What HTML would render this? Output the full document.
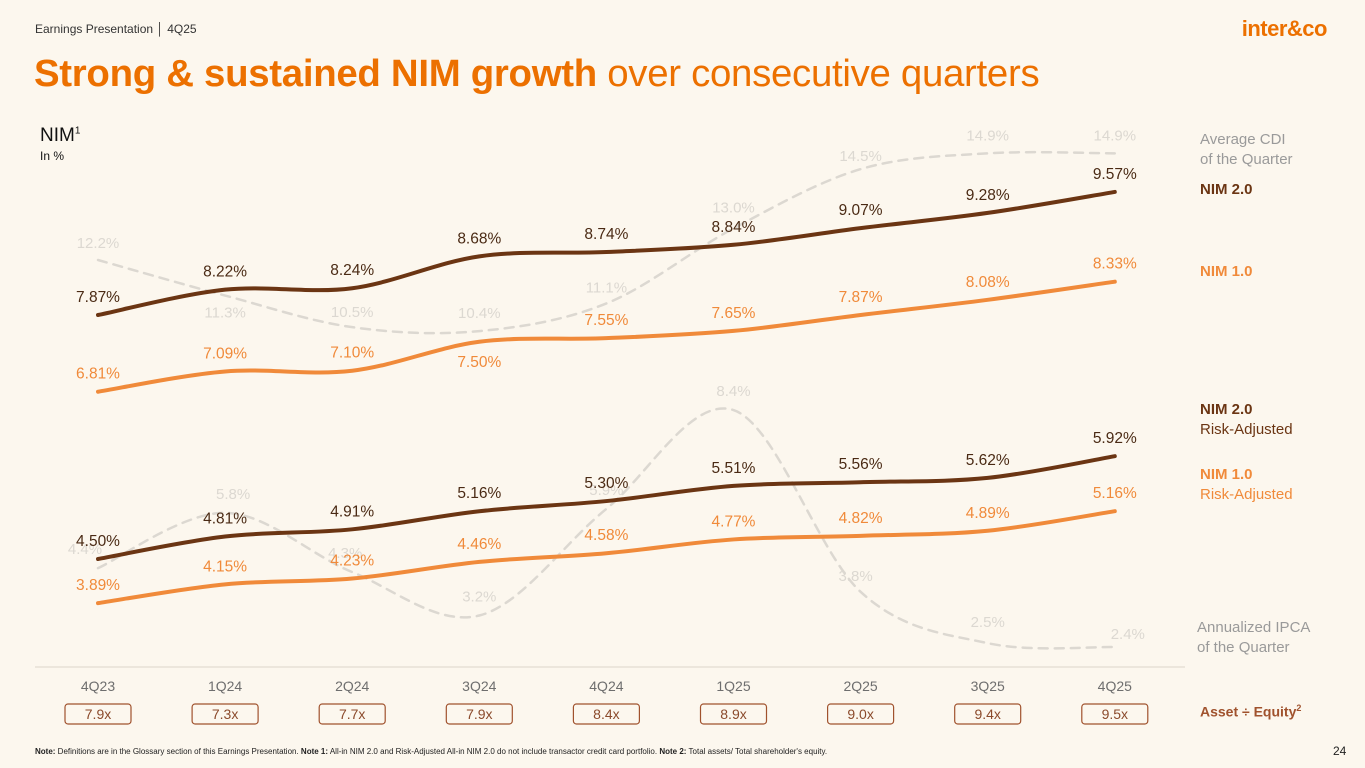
<!DOCTYPE html>
<html><head><meta charset="utf-8"><style>
body{margin:0;background:#fcf7ee;font-family:"Liberation Sans",sans-serif;}
#wrap{position:relative;width:1365px;height:768px;overflow:hidden;background:#fcf7ee;}
.t{position:absolute;white-space:nowrap;}
</style></head><body>
<div id="wrap">
<div class="t" style="left:35px;top:22px;font-size:12px;color:#333">Earnings Presentation │ 4Q25</div>
<div class="t" style="right:38px;top:16px;font-size:22px;font-weight:bold;color:#ec7000;letter-spacing:-0.5px">inter&amp;co</div>
<div class="t" style="left:34px;top:52px;font-size:38.4px;color:#ec7000;letter-spacing:-0.3px"><b>Strong &amp; sustained NIM growth</b> over consecutive quarters</div>
<div class="t" style="left:40px;top:125px;font-size:19px;color:#111">NIM<sup style="font-size:10px">1</sup></div>
<div class="t" style="left:40px;top:149px;font-size:12px;color:#111">In %</div>
<div class="t" style="left:1200px;top:130px;font-size:15px;color:#9a9a9a;line-height:20px">Average CDI<br>of the Quarter</div>
<div class="t" style="left:1200px;top:181px;font-size:15px;font-weight:bold;color:#6b3513">NIM 2.0</div>
<div class="t" style="left:1200px;top:263px;font-size:15px;font-weight:bold;color:#f08a3a">NIM 1.0</div>
<div class="t" style="left:1200px;top:400px;font-size:15px;color:#6b3513;line-height:20px"><b>NIM 2.0</b><br>Risk-Adjusted</div>
<div class="t" style="left:1200px;top:465px;font-size:15px;color:#f08a3a;line-height:20px"><b>NIM 1.0</b><br>Risk-Adjusted</div>
<div class="t" style="left:1197px;top:618px;font-size:15px;color:#9a9a9a;line-height:20px">Annualized IPCA<br>of the Quarter</div>
<div class="t" style="left:1200px;top:703px;font-size:14px;font-weight:bold;color:#a0522d">Asset ÷ Equity<sup style="font-size:9px">2</sup></div>
<svg id="chart" width="1365" height="768" style="position:absolute;left:0;top:0"></svg>
<div class="t" style="left:35px;top:747px;font-size:8px;color:#222"><b>Note:</b> Definitions are in the Glossary section of this Earnings Presentation. <b>Note 1:</b> All-in NIM 2.0 and Risk-Adjusted All-in NIM 2.0 do not include transactor credit card portfolio. <b>Note 2:</b> Total assets/ Total shareholder's equity.</div>
<div class="t" style="left:1333px;top:744px;font-size:12px;color:#222">24</div>
</div>
<script>
const categories=["4Q23","1Q24","2Q24","3Q24","4Q24","1Q25","2Q25","3Q25","4Q25"];
const nim2=[7.87,8.22,8.24,8.68,8.74,8.84,9.07,9.28,9.57];
const nim1=[6.81,7.09,7.10,7.50,7.55,7.65,7.87,8.08,8.33];
const nim2ra=[4.50,4.81,4.91,5.16,5.30,5.51,5.56,5.62,5.92];
const nim1ra=[3.89,4.15,4.23,4.46,4.58,4.77,4.82,4.89,5.16];
const cdi=[12.2,11.3,10.5,10.4,11.1,13.0,14.5,14.9,14.9];
const ipca=[4.4,5.8,4.3,3.2,5.9,8.4,3.8,2.5,2.4];
const leverage=["7.9x","7.3x","7.7x","7.9x","8.4x","8.9x","9.0x","9.4x","9.5x"];
const cdiDy=[-12,22,-10,-13,-11,-16,-8,-13,-13];
const ipcaDy=[-14,-14,-14,-14,-14,-14,-11,-16,-8];
const ipcaDx=[-13,8,-7,0,0,0,-5,0,13];
const svg=document.getElementById('chart');
const NS='http://www.w3.org/2000/svg';
const xS=i=>98+i*127.1;
const yS=v=>315-(v-7.87)*72.4;
const yD=v=>260-(v-12.2)*39.5;
function path(vals,ys){
  const p=vals.map((v,i)=>[xS(i),ys(v)]);
  let d=`M${p[0][0]},${p[0][1]}`;
  for(let i=0;i<p.length-1;i++){
    const p0=p[i-1]||p[i],p1=p[i],p2=p[i+1],p3=p[i+2]||p2;
    const c1=[p1[0]+(p2[0]-p0[0])/6,p1[1]+(p2[1]-p0[1])/6];
    const c2=[p2[0]-(p3[0]-p1[0])/6,p2[1]-(p3[1]-p1[1])/6];
    d+=` C${c1[0]},${c1[1]} ${c2[0]},${c2[1]} ${p2[0]},${p2[1]}`;
  }
  return d;
}
function addPath(vals,ys,color,w,dash,name){
  const el=document.createElementNS(NS,'path');
  el.setAttribute('d',path(vals,ys));
  el.setAttribute('fill','none');el.setAttribute('stroke',color);
  el.setAttribute('stroke-width',w);el.setAttribute('stroke-linecap','round');
  if(dash)el.setAttribute('stroke-dasharray',dash);
  
  
  svg.appendChild(el);
}
function addText(x,y,txt,color,size,name,weight){
  const t=document.createElementNS(NS,'text');
  t.setAttribute('x',x);t.setAttribute('y',y);t.setAttribute('text-anchor','middle');
  t.setAttribute('font-size',size);t.setAttribute('fill',color);
  t.setAttribute('font-family','Liberation Sans, sans-serif');
  if(weight)t.setAttribute('font-weight',weight);
  t.textContent=txt;
  
  
  svg.appendChild(t);
}
const ln=document.createElementNS(NS,'line');
ln.setAttribute('x1',35);ln.setAttribute('x2',1185);ln.setAttribute('y1',667);ln.setAttribute('y2',667);
ln.setAttribute('stroke','#e6e0d5');ln.setAttribute('stroke-width',1.5);


svg.appendChild(ln);
addPath(cdi,yD,'#dcd8d1',2.5,'9,7','cdi-line');
addPath(ipca,yD,'#dcd8d1',2.5,'9,7','ipca-line');
cdi.forEach((v,i)=>addText(xS(i),yD(v)+cdiDy[i],v.toFixed(1)+'%','#dcd8d1',15,'cdi-label'));
ipca.forEach((v,i)=>addText(xS(i)+ipcaDx[i],yD(v)+ipcaDy[i],v.toFixed(1)+'%','#dcd8d1',15,'ipca-label'));
addPath(nim2,yS,'#6b3513',4,null,'nim2-line');
addPath(nim1,yS,'#f08a3a',4,null,'nim1-line');
addPath(nim2ra,yS,'#6b3513',4,null,'nim2-ra-line');
addPath(nim1ra,yS,'#f08a3a',4,null,'nim1-ra-line');
nim2.forEach((v,i)=>addText(xS(i),yS(v)-13,v.toFixed(2)+'%','#4a2a14',15.5,'nim2-label'));
nim1.forEach((v,i)=>addText(xS(i),yS(v)+(i===3?25:-13),v.toFixed(2)+'%','#f08a3a',15.5,'nim1-label'));
nim2ra.forEach((v,i)=>addText(xS(i),yS(v)-13,v.toFixed(2)+'%','#4a2a14',15.5,'nim2-ra-label'));
nim1ra.forEach((v,i)=>addText(xS(i),yS(v)-13,v.toFixed(2)+'%','#f08a3a',15.5,'nim1-ra-label'));
categories.forEach((c,i)=>addText(xS(i),691,c,'#6e6e6e',14,'x-axis-label'));
leverage.forEach((c,i)=>{
  const r=document.createElementNS(NS,'rect');
  r.setAttribute('x',xS(i)-33);r.setAttribute('y',704);r.setAttribute('width',66);r.setAttribute('height',20);
  r.setAttribute('rx',3);r.setAttribute('fill','none');r.setAttribute('stroke','#a0522d');r.setAttribute('stroke-width',1.2);
  
  
  svg.appendChild(r);
  addText(xS(i),719,c,'#8b4a2b',14,'leverage-value');
});
</script>
</body></html>
